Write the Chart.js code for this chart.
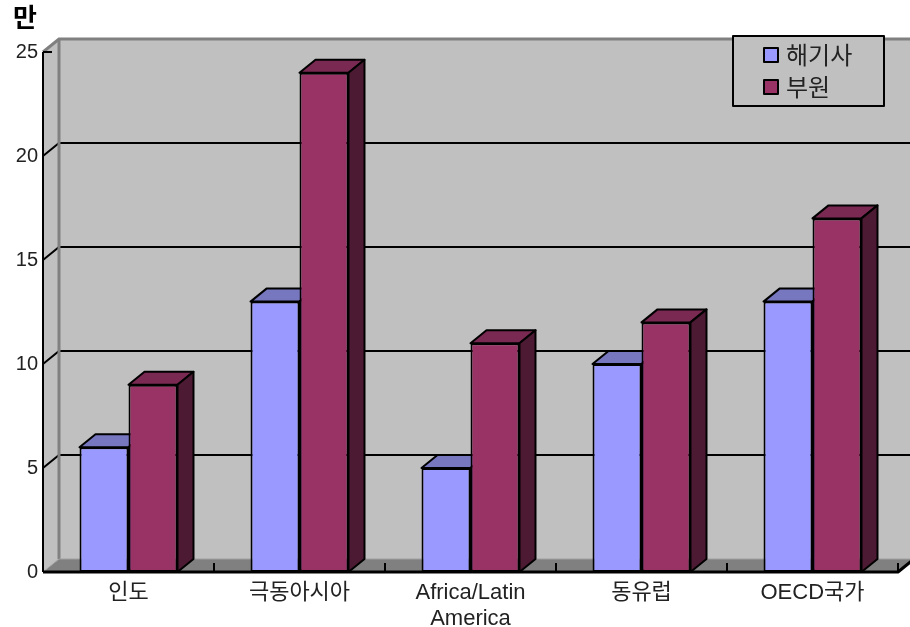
<!DOCTYPE html>
<html>
<head>
<meta charset="utf-8">
<script src="https://cdn.jsdelivr.net/npm/chart.js@4"></script>
<style>
html, body { margin: 0; background: #fff; }
#wrap { width: 910px; height: 627px; }
</style>
</head>
<body>
<div id="wrap"><canvas id="chart"></canvas></div>
<script>
const categories = ['인도', '극동아시아', ['Africa/Latin', 'America'], '동유럽', 'OECD국가'];
const officers = [6, 13, 5, 10, 13];   // 해기사
const ratings = [9, 24, 11, 12, 17];   // 부원
const seriesNames = ['해기사', '부원'];
const yTicks = [0, 5, 10, 15, 20, 25];
const unitLabel = '만';

const DX = 16, DY = 13;
const FONT = '"Liberation Sans", "Noto Sans CJK KR", sans-serif';

function poly(ctx, pts, fill, stroke, lw) {
    ctx.beginPath();
    ctx.moveTo(pts[0][0], pts[0][1]);
    for (let i = 1; i < pts.length; i++) ctx.lineTo(pts[i][0], pts[i][1]);
    ctx.closePath();
    if (fill) { ctx.fillStyle = fill; ctx.fill(); }
    if (stroke) { ctx.strokeStyle = stroke; ctx.lineWidth = lw || 2; ctx.lineJoin = 'round'; ctx.stroke(); }
}

function line(ctx, pts, color, lw) {
    ctx.beginPath();
    ctx.moveTo(pts[0][0], pts[0][1]);
    for (let i = 1; i < pts.length; i++) ctx.lineTo(pts[i][0], pts[i][1]);
    ctx.strokeStyle = color;
    ctx.lineWidth = lw;
    ctx.stroke();
}

// top and side faces of each bar
function drawFaces(chart, idx) {
    const ctx = chart.ctx;
    const ds = chart.data.datasets[idx];
    chart.getDatasetMeta(idx).data.forEach(bar => {
        const p = bar.getProps(['x', 'y', 'base', 'width'], true);
        const l = p.x - p.width / 2, r = p.x + p.width / 2;
        poly(ctx, [[l, p.y], [l + DX, p.y - DY], [r + DX, p.y - DY], [r, p.y]], ds.topColor, '#000', 2);
        poly(ctx, [[r, p.y], [r + DX, p.y - DY], [r + DX, p.base - DY], [r, p.base]], ds.sideColor, '#000', 2);
    });
}

const box3d = {
    id: 'box3d',
    beforeDatasetsDraw(chart) {
        const ctx = chart.ctx;
        const { left, right, top, bottom } = chart.chartArea;
        const W = chart.width;
        const y = chart.scales.y;
        ctx.save();
        // back wall + side wall
        ctx.fillStyle = '#c0c0c0';
        ctx.fillRect(left + DX, top - DY, W - left - DX, bottom - top);
        poly(ctx, [[left, top], [left + DX, top - DY], [left + DX, bottom - DY], [left, bottom]], '#c0c0c0');
        // floor
        poly(ctx, [[left, bottom], [left + DX, bottom - DY], [right + DX, bottom - DY], [right, bottom]], '#808080');
        // grid lines
        yTicks.forEach(v => {
            if (v === 0 || v === 25) return;
            const py = y.getPixelForValue(v);
            line(ctx, [[left, py], [left + DX, py - DY], [W, py - DY]], '#000', 2);
        });
        // wall edges
        line(ctx, [[left, top], [left + DX, top - DY], [W, top - DY]], '#808080', 3);
        line(ctx, [[left + DX, top - DY], [left + DX, bottom - DY]], '#808080', 3);
        line(ctx, [[left, bottom], [left + DX, bottom - DY], [right + DX, bottom - DY]], '#a0a0a0', 1);
        // first series faces go behind the second series fronts
        drawFaces(chart, 0);
        ctx.restore();
    },
    afterDatasetsDraw(chart) {
        const ctx = chart.ctx;
        const { left, right, top, bottom } = chart.chartArea;
        const x = chart.scales.x;
        ctx.save();
        drawFaces(chart, 1);
        // front axes
        line(ctx, [[left, top], [left, bottom]], '#000', 2);
        line(ctx, [[left, top], [left + 9, top]], '#000', 2);
        line(ctx, [[left, bottom], [right, bottom], [right + DX, bottom - DY]], '#000', 3);
        for (let i = 1; i <= categories.length; i++) {
            const bx = i < categories.length
                ? (x.getPixelForValue(i - 1) + x.getPixelForValue(i)) / 2
                : right;
            line(ctx, [[bx, bottom], [bx, bottom - 9]], '#000', 2);
        }
        ctx.restore();
    },
    afterDraw(chart) {
        const ctx = chart.ctx;
        ctx.save();
        // unit
        ctx.fillStyle = '#000';
        ctx.font = 'bold 26px "Noto Sans CJK KR", sans-serif';
        ctx.textBaseline = 'middle';
        ctx.fillText(unitLabel, 13, 17);
        // legend
        poly(ctx, [[733, 36], [884, 36], [884, 106], [733, 106]], '#c0c0c0', '#000', 2);
        ctx.font = '24px "Noto Sans CJK KR", sans-serif';
        chart.data.datasets.forEach((ds, i) => {
            const cy = 55 + i * 32;
            ctx.fillStyle = ds.backgroundColor;
            ctx.fillRect(764, cy - 7, 14, 14);
            ctx.strokeStyle = '#000';
            ctx.lineWidth = 2;
            ctx.strokeRect(764, cy - 7, 14, 14);
            ctx.fillStyle = '#222';
            ctx.fillText(ds.label, 786, cy);
        });
        ctx.restore();
    }
};

new Chart(document.getElementById('chart'), {
    type: 'bar',
    data: {
        labels: categories,
        datasets: [
            { label: seriesNames[0], data: officers, backgroundColor: '#9999ff', topColor: '#7777c0', sideColor: '#4d4d80' },
            { label: seriesNames[1], data: ratings, backgroundColor: '#993366', topColor: '#7a2952', sideColor: '#4d1a33' }
        ]
    },
    options: {
        responsive: true,
        maintainAspectRatio: false,
        animation: false,
        layout: { padding: { left: 0, right: 12, top: 52, bottom: 0 } },
        datasets: {
            bar: {
                categoryPercentage: 0.573,
                barPercentage: 1.0,
                borderColor: '#000',
                borderWidth: 2,
                borderSkipped: false
            }
        },
        plugins: {
            legend: { display: false },
            tooltip: { enabled: false }
        },
        scales: {
            x: {
                grid: { display: false, drawTicks: false },
                border: { display: false },
                ticks: { color: '#222', font: { family: FONT, size: 22, lineHeight: 1.18 }, padding: 8, maxRotation: 0, autoSkip: false },
                afterFit(scale) { scale.height = 55; }
            },
            y: {
                min: 0,
                max: 25,
                grid: { display: false, drawTicks: false },
                border: { display: false },
                afterBuildTicks(scale) { scale.ticks = yTicks.map(v => ({ value: v })); },
                ticks: { color: '#222', font: { family: FONT, size: 20 }, padding: 5 },
                afterFit(scale) { scale.width = 43; }
            }
        }
    },
    plugins: [box3d]
});
</script>
</body>
</html>
